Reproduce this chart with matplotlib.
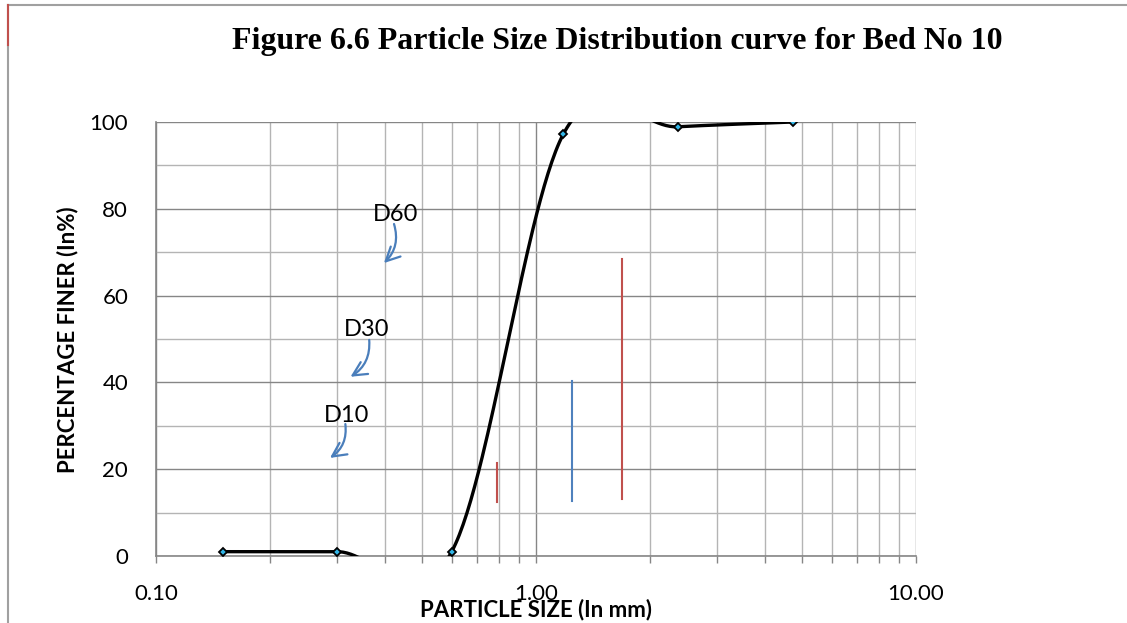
import numpy as np
import matplotlib
matplotlib.use("Agg")
import matplotlib.pyplot as plt
from matplotlib.lines import Line2D
from matplotlib.path import Path

# ---- data ----
sizes_mm = [0.15, 0.30, 0.60, 1.18, 2.36, 4.75]
pct_finer = [1.0, 1.0, 1.0, 97.2, 98.9, 100.0]

# marker lines (x, y_bottom, y_top, color)
vline_x = [0.79, 1.24, 1.68]
vline_y0 = [12.4, 12.7, 13.1]
vline_y1 = [21.5, 40.3, 68.4]
vline_colors = ["#C0504D", "#4F81BD", "#C0504D"]

# D-labels: text, text position, arrow start, arrow tip (data coords)
d_labels = ["D60", "D30", "D10"]
d_text_xy = [(0.426, 78.8), (0.359, 52.1), (0.318, 32.3)]
d_arrow_from = [(0.423, 76.5), (0.364, 49.8), (0.315, 30.4)]
d_arrow_to = [(0.398, 67.5), (0.325, 41.3), (0.287, 22.6)]

x_ticks = [0.1, 1.0, 10.0]
x_ticklabels = ["0.10", "1.00", "10.00"]
y_ticks = [0, 20, 40, 60, 80, 100]

W, H = 1127, 623
fig = plt.figure(figsize=(W / 100, H / 100), dpi=100)
ax = fig.add_axes([156 / W, (H - 556) / H, (916 - 156) / W, (556 - 122) / H])
ax.set_xscale("log")
ax.set_xlim(0.1, 10)
ax.set_ylim(0, 100)

# grid
ax.set_yticks(y_ticks)
ax.set_yticks([10, 30, 50, 70, 90], minor=True)
ax.set_xticks(x_ticks)
ax.set_xticklabels(x_ticklabels)
ax.grid(which="major", axis="y", color="#868686", lw=1.0)
ax.grid(which="minor", axis="y", color="#b4b4b4", lw=1.0)
ax.grid(which="major", axis="x", color="#868686", lw=1.0)
ax.grid(which="minor", axis="x", color="#b4b4b4", lw=1.0)
ax.set_axisbelow(True)

for s in ["top", "right"]:
    ax.spines[s].set_visible(False)
for s in ["left", "bottom"]:
    ax.spines[s].set_color("#868686")
    ax.spines[s].set_linewidth(1.2)

ax.tick_params(axis="y", which="both", length=0, pad=20, labelsize=16)
ax.tick_params(axis="x", which="both", direction="out", length=5, color="#868686", width=1.0)
ax.tick_params(axis="x", which="major", pad=15, labelsize=16)
ax.tick_params(axis="x", which="minor", labelbottom=False)
for lab in ax.get_xticklabels() + ax.get_yticklabels():
    lab.set_fontfamily("Lato")

# ---- smoothed curve (Excel-like Catmull-Rom in display space) ----
fig.canvas.draw()
pts = ax.transData.transform(np.column_stack([sizes_mm, pct_finer]))
n = len(pts)
verts = [pts[0]]
for i in range(n - 1):
    p0 = pts[i - 1] if i > 0 else pts[i]
    p1 = pts[i]
    p2 = pts[i + 1]
    p3 = pts[i + 2] if i + 2 < n else pts[i + 1]
    c1 = p1 + (p2 - p0) / 6.0
    c2 = p2 - (p3 - p1) / 6.0
    t = np.linspace(0, 1, 60)[1:, None]
    seg = ((1 - t) ** 3) * p1 + 3 * ((1 - t) ** 2) * t * c1 + 3 * (1 - t) * t ** 2 * c2 + t ** 3 * p2
    verts.extend(seg)
verts = np.array(verts)
curve = ax.transData.inverted().transform(verts)
ax.plot(curve[:, 0], curve[:, 1], color="black", lw=2.4, solid_capstyle="round", zorder=3)
ax.plot(sizes_mm, pct_finer, ls="none", marker="D", ms=4, mfc="#31B6E7",
        mec="black", mew=1.3, zorder=4)

# vertical marker lines
for x, y0, y1, c in zip(vline_x, vline_y0, vline_y1, vline_colors):
    ax.plot([x, x], [y0, y1], color=c, lw=1.5, zorder=3)

# D labels with curved arrows
for lab, txy, a0, a1 in zip(d_labels, d_text_xy, d_arrow_from, d_arrow_to):
    ax.text(txy[0], txy[1], lab, fontsize=17, family="Lato", ha="center", va="center", zorder=5)
    ax.annotate("", xy=a1, xytext=a0,
                arrowprops=dict(arrowstyle="->,head_length=1.0,head_width=0.5",
                                color="#4A7EBB", lw=1.6,
                                connectionstyle="arc3,rad=-0.3",
                                shrinkA=0, shrinkB=0))

# labels
fig.text(536 / W, 1 - 610 / H, "PARTICLE SIZE (In mm)", fontsize=16, fontweight="bold",
         family="Lato", ha="center", va="center")
fig.text(68 / W, 1 - 340 / H, "PERCENTAGE FINER (In%)", fontsize=16, fontweight="bold",
         family="Lato", ha="center", va="center", rotation=90)

title = fig.text(617 / W, 1 - 41 / H,
                 "Figure 6.6 Particle Size Distribution curve for Bed No 10",
                 fontsize=20, fontweight="bold", family="Liberation Serif",
                 ha="center", va="center")
fig.canvas.draw()
w = title.get_window_extent().width
title.set_fontsize(20 * 771 / w)

# page frame
fig.add_artist(Line2D([8 / W, 1], [1 - 5 / H, 1 - 5 / H], transform=fig.transFigure,
                      color="#a0a0a0", lw=1.5))
fig.add_artist(Line2D([8 / W, 8 / W], [1 - 5 / H, 0], transform=fig.transFigure,
                      color="#a0a0a0", lw=1.5))
fig.add_artist(Line2D([8 / W, 8 / W], [1 - 5 / H, 1 - 45 / H], transform=fig.transFigure,
                      color="#C0504D", lw=1.5))

fig.savefig("out.png", dpi=100)
